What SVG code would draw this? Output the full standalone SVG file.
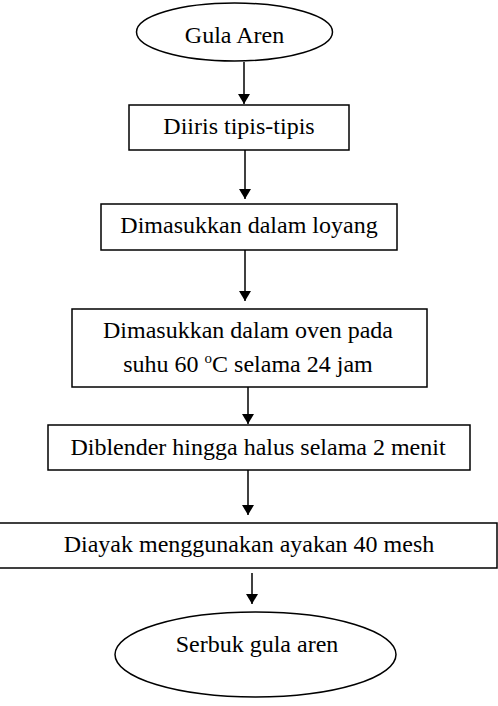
<svg xmlns="http://www.w3.org/2000/svg" width="498" height="706" viewBox="0 0 498 706">
<style>
.box{fill:#fff;stroke:#000;stroke-width:1.5}
.t{font-family:'Liberation Serif','Times New Roman','DejaVu Serif',serif;font-size:24px;fill:#000;text-anchor:middle}
.c{stroke:#000;stroke-width:1.5;fill:none;marker-end:url(#ah)}
</style>
<defs>
<marker id="ah" viewBox="0 0 10 12" refX="10" refY="6" markerWidth="10" markerHeight="12" markerUnits="userSpaceOnUse" orient="auto">
<path d="M0,0 L10,6 L0,12 Z" fill="#000"/>
</marker>
</defs>
<rect width="498" height="706" fill="#fff"/>
<g id="connectors">
<line class="c" x1="244" y1="62" x2="244" y2="104"/>
<line class="c" x1="245" y1="150" x2="245" y2="199"/>
<line class="c" x1="245" y1="250" x2="245" y2="301"/>
<line class="c" x1="248" y1="387" x2="248" y2="424"/>
<line class="c" x1="248" y1="470" x2="248" y2="515"/>
<line class="c" x1="252" y1="573" x2="252" y2="604"/>
</g>
<g id="n1"><ellipse class="box" cx="234.5" cy="32" rx="98" ry="29"/><text class="t" x="234.5" y="43">Gula Aren</text></g>
<g id="n2"><rect class="box" x="129" y="105" width="220" height="45"/><text class="t" x="239" y="134">Diiris tipis-tipis</text></g>
<g id="n3"><rect class="box" x="101" y="204" width="296" height="46"/><text class="t" x="249" y="233">Dimasukkan dalam loyang</text></g>
<g id="n4"><rect class="box" x="72" y="309" width="355" height="78"/><text class="t" x="248" y="338">Dimasukkan dalam oven pada</text><text class="t" x="248" y="372">suhu 60 <tspan font-size="15" dy="-9">o</tspan><tspan dy="9">C selama 24 jam</tspan></text></g>
<g id="n5"><rect class="box" x="48" y="425" width="422" height="45"/><text class="t" x="258" y="455">Diblender hingga halus selama 2 menit</text></g>
<g id="n6"><rect class="box" x="-2" y="523" width="499" height="45"/><text class="t" x="249" y="552">Diayak menggunakan ayakan 40 mesh</text></g>
<g id="n7"><ellipse class="box" cx="255.5" cy="654.5" rx="140.5" ry="42.5"/><text class="t" x="257" y="652">Serbuk gula aren</text></g>
</svg>
